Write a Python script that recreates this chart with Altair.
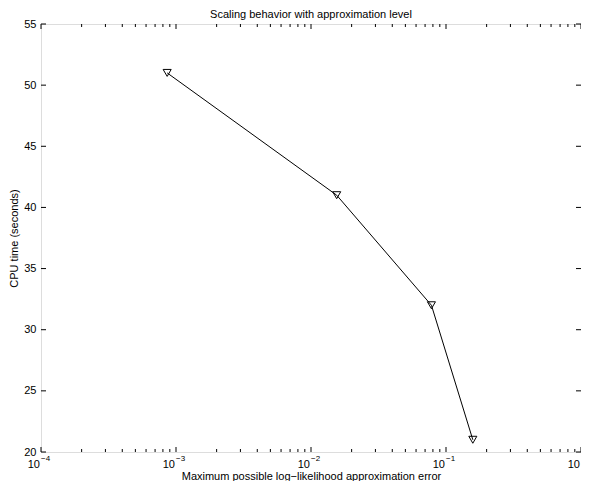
import altair as alt
import pandas as pd

# data
err = [8.6e-4, 0.0155, 0.078, 0.158]
cpu = [51, 41, 32, 21]

# axis tick values
x_major = [1e-4, 1e-3, 1e-2, 1e-1, 1.0]
x_exp = ["\u22124", "\u22123", "\u22122", "\u22121", "0"]
x_minor = [k * d for d in [1e-4, 1e-3, 1e-2, 1e-1] for k in [2, 3, 4, 5, 6, 7, 8, 9]]
y_major = [20, 25, 30, 35, 40, 45, 50, 55]

W, H = 540, 428
FONT = "Liberation Sans"

df = pd.DataFrame({"err": err, "cpu": cpu})
dmaj = pd.DataFrame({"v": x_major, "e": x_exp})
dmin = pd.DataFrame({"v": x_minor})
dy = pd.DataFrame({"y": y_major})

xs = alt.Scale(type="log", domain=[1e-4, 1.0], nice=False)
ys = alt.Scale(domain=[20, 55], nice=False, zero=False)

line = alt.Chart(df).mark_line(color="black", strokeWidth=1).encode(
    x=alt.X("err:Q", scale=xs,
            axis=alt.Axis(title="Maximum possible log\u2212likelihood approximation error",
                          labels=False, ticks=False, domain=False, grid=False,
                          titlePadding=18, titleFontWeight="normal", titleFontSize=11,
                          titleFont=FONT, titleColor="black")),
    y=alt.Y("cpu:Q", scale=ys,
            axis=alt.Axis(title="CPU time (seconds)", values=y_major, ticks=False,
                          domain=False, grid=False, labelPadding=5, labelFontSize=11,
                          labelFont=FONT, labelColor="black",
                          titlePadding=4, titleFontWeight="normal", titleFontSize=11,
                          titleFont=FONT, titleColor="black")),
)
pts = alt.Chart(df).mark_point(shape="triangle-down", filled=False, color="black",
                               size=65, strokeWidth=1, opacity=1).encode(
    x=alt.X("err:Q", scale=xs), y=alt.Y("cpu:Q", scale=ys))

def xt(data, y0, y1):
    return alt.Chart(data).mark_rule(color="black", strokeWidth=1).encode(
        x=alt.X("v:Q", scale=xs), y=alt.value(y0), y2=alt.value(y1))

def yt(x0, x1):
    return alt.Chart(dy).mark_rule(color="black", strokeWidth=1).encode(
        y=alt.Y("y:Q", scale=ys), x=alt.value(x0), x2=alt.value(x1))

ticks = [
    xt(dmaj, H, H - 5), xt(dmaj, 0, 5),
    xt(dmin, H, H - 3), xt(dmin, 0, 3),
    yt(0, 5), yt(W, W - 5),
]

lab10 = alt.Chart(dmaj).mark_text(text="10", align="right", baseline="middle",
                                  fontSize=11, font=FONT, color="black", dx=-1).encode(
    x=alt.X("v:Q", scale=xs), y=alt.value(H + 13))
labexp = alt.Chart(dmaj).mark_text(align="left", baseline="middle",
                                   fontSize=8, font=FONT, color="black", dx=0).encode(
    x=alt.X("v:Q", scale=xs), y=alt.value(H + 7), text="e:N")

chart = alt.layer(line, pts, *ticks, lab10, labexp).properties(
    width=W, height=H,
    title=alt.TitleParams("Scaling behavior with approximation level", fontSize=11,
                          fontWeight="normal", font=FONT, color="black", offset=0,
                          dy=2, anchor="middle"),
    autosize=alt.AutoSizeParams(type="none"),
    padding={"left": 33, "top": 16, "right": 0, "bottom": 29},
).configure_view(stroke="black", strokeWidth=1).configure(background="white")

chart.save("out.html", embed_options={"renderer": "svg", "actions": False})
